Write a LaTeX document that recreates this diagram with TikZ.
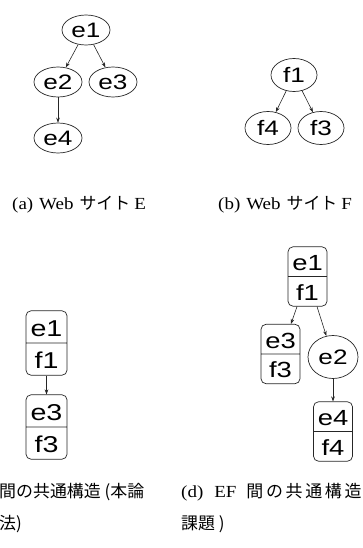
\documentclass[tikz,border=0pt]{standalone}
\usepackage{fontspec}
\setmainfont[FakeStretch=1.12]{Liberation Serif}
\newfontfamily\nf[FakeStretch=1.25]{Liberation Sans}
\newfontfamily\jp{Noto Sans CJK JP}
\usetikzlibrary{shapes.geometric,shapes.multipart,arrows.meta}
\newcommand{\cst}{\rule[-6bp]{0pt}{31.5bp}}
\newcommand{\dst}{\rule[-5.5bp]{0pt}{29bp}}
\newcommand{\jg}{\hspace{2.7bp}}
\begin{document}
\begin{tikzpicture}[x=1bp,y=-1bp,
  ell/.style={ellipse, draw=black!85, line width=0.7bp, inner sep=0pt,
    minimum width=48bp, minimum height=30bp, font={\nf\fontsize{21}{24}\selectfont}},
  circ/.style={ell, minimum width=46bp, minimum height=33bp},
  pairc/.style={rectangle split, rectangle split parts=2, draw=black!85, line width=0.7bp,
    rounded corners=5bp, inner sep=0pt, minimum width=41bp,
    font={\nf\fontsize{23}{26}\selectfont}},
  paird/.style={pairc, minimum width=39bp, font={\nf\fontsize{22}{25}\selectfont}},
  arr/.style={-{Stealth[length=5bp,width=3.6bp]}, line width=0.6bp, draw=black!85},
  captxt/.style={inner sep=0pt, font={\fontsize{17}{20}\selectfont}}
]
\useasboundingbox (0,0) rectangle (362,548);
% (a)
\node[ell] (e1) at (86,30) {e1};
\node[ell] (e2) at (58,82) {e2};
\node[ell] (e3) at (113,82) {e3};
\node[ell] (e4) at (58,138) {e4};
\draw[arr] (e1) -- (e2);
\draw[arr] (e1) -- (e3);
\draw[arr] (e2) -- (e4);
\node[captxt, anchor=base west] (capa) at (12,210) {(a)\hspace{6bp}Web\hspace{6bp}{\jp サイト}\hspace{4bp}E};
% (b)
\node[circ] (f1) at (294,75) {f1};
\node[circ] (f4) at (268,128) {f4};
\node[circ] (f3) at (321,128) {f3};
\draw[arr] (f1) -- (f4);
\draw[arr] (f1) -- (f3);
\node[captxt, anchor=base west] (capb) at (218,210) {(b)\hspace{6bp}Web\hspace{6bp}{\jp サイト}\hspace{4bp}F};
% (c)
\node[pairc] (c1) at (46.5,343) {\cst e1\nodepart{two}\cst f1};
\node[pairc] (c3) at (46.5,427) {\cst e3\nodepart{two}\cst f3};
\draw[arr] (c1) -- (c3);
\node[captxt, anchor=base west] (capc1) at (-1,497) {{\jp 間の共通構造 (本論}};
\node[captxt, anchor=base west] (capc2) at (-1,529) {{\jp 法)}};
% (d)
\node[paird] (d1) at (307.5,276.5) {\dst e1\nodepart{two}\dst f1};
\node[paird] (d3) at (280.5,354) {\dst e3\nodepart{two}\dst f3};
\node[ell, minimum width=50bp, minimum height=43bp] (d2) at (333,357) {e2};
\node[paird] (d4) at (333,431.5) {\dst e4\nodepart{two}\dst f4};
\draw[arr] (d1) -- (d3);
\draw[arr] (d1) -- (d2);
\draw[arr] (d2) -- (d4);
\node[captxt, anchor=base west] (capd1) at (181,497) {(d)\hspace{11bp}EF\hspace{10bp}{\jp 間\jg の\jg 共\jg 通\jg 構\jg 造}};
\node[captxt, anchor=base west] (capd2) at (181,529) {{\jp 課題 )}};
\end{tikzpicture}
\end{document}
